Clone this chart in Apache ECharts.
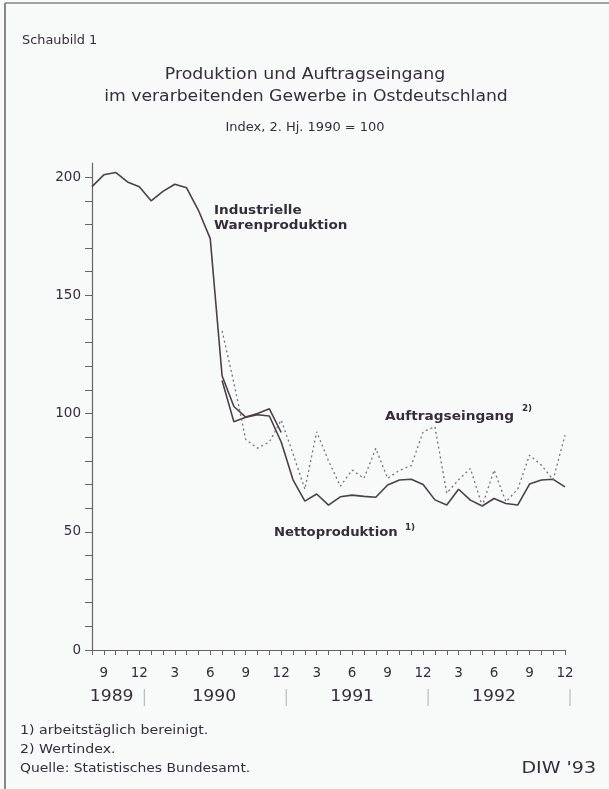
<!DOCTYPE html>
<html><head><meta charset="utf-8">
<script src="https://cdn.jsdelivr.net/npm/echarts@6/dist/echarts.min.js"></script>
<style>html,body{margin:0;padding:0;background:#f8fafa;}#c{width:609px;height:789px;}</style>
</head><body><div id="c"></div>
<script>
// ---- data ----
const months = ['8/89','9/89','10/89','11/89','12/89',
  '1/90','2/90','3/90','4/90','5/90','6/90','7/90','8/90','9/90','10/90','11/90','12/90',
  '1/91','2/91','3/91','4/91','5/91','6/91','7/91','8/91','9/91','10/91','11/91','12/91',
  '1/92','2/92','3/92','4/92','5/92','6/92','7/92','8/92','9/92','10/92','11/92','12/92'];
const monthLabelsShown = ['3','6','9','12'];
const years = ['1989','1990','1991','1992'];
const yearEnds = ['12/89','12/90','12/91','12/92'];

const industrieStart = '8/89';
const industrie = [196,201,202,198,196,190,194,197,195.5,186,174,116,103,98.5,100,102,92];
const nettoStart = '7/90';
const netto = [114,96.5,98.5,99.5,99,88,
  72,63,66,61.3,64.8,65.5,65,64.6,69.8,71.9,72.2,70,
  63.5,61.3,68,63.4,60.9,64.1,62,61.3,70.2,71.9,72.2,69];
const auftragStart = '7/90';
const auftrag = [135,113,89,85.4,88,97.3,
  83,68,92.3,80,69.3,76.1,72.6,85.3,72.6,76,78,92.3,
  94.4,66.3,72,76.8,60.9,76.1,62.7,68,82.4,78.2,72,90.9];
const yLabelValues = [0,50,100,150,200];
const yTickValues = [0,10,20,30,40,50,60,70,80,90,100,110,120,130,140,150,160,170,180,190,200];

// ---- build ----
function pairs(start, vals){
  const s = months.indexOf(start);
  return vals.map((v,i)=>[months[s+i], v]);
}
const INK = '#4a4048';
const TXT = '#352d38';
const FONT = 'DejaVu Sans';
const chart = echarts.init(document.getElementById('c'), null, {renderer:'canvas'});
const option = {
  backgroundColor:'#f8fafa',
  animation:false,
  textStyle:{fontFamily:FONT},
  grid:{left:92, right:44, top:163, bottom:139},
  xAxis:{type:'category', data:months, boundaryGap:false,
    axisLine:{lineStyle:{color:'#6a6068', width:1.2}},
    axisTick:{show:true, interval:0, length:5, lineStyle:{color:'#6a6068'}},
    axisLabel:{interval:0, margin:16, color:TXT, fontSize:13.5, fontFamily:FONT,
      formatter:v=>{const m=v.split('/')[0]; return monthLabelsShown.includes(m)?m:'';}},
    splitLine:{show:false}},
  yAxis:{type:'value', min:0, max:206,
    axisLine:{show:true, lineStyle:{color:'#6a6068', width:1.2}},
    axisTick:{show:true, length:7, customValues:yTickValues, lineStyle:{color:'#6a6068'}},
    axisLabel:{customValues:yLabelValues, margin:11, color:TXT, fontSize:13.5, fontFamily:FONT},
    splitLine:{show:false}},
  series:[
    {name:'Industrielle Warenproduktion', type:'line', data:pairs(industrieStart, industrie), symbol:'none',
     lineStyle:{color:INK, width:1.6}},
    {name:'Nettoproduktion', type:'line', data:pairs(nettoStart, netto), symbol:'none',
     lineStyle:{color:INK, width:1.6}},
    {name:'Auftragseingang', type:'line', data:pairs(auftragStart, auftrag), symbol:'none',
     lineStyle:{color:'#7a7078', width:1.3, type:[2,3]}}
  ]
};
chart.setOption(option);

function txt(t,x,y,font,sx,opts){
  return {type:'text', x:x, y:y, scaleX:sx||1,
    style:Object.assign({text:t, fill:TXT, font:font+' "'+FONT+'"', align:'left', verticalAlign:'middle'}, opts||{})};
}
// year labels and separators placed through the axis scale
const g = [];
const yAxisY = chart.convertToPixel({gridIndex:0}, [months[0], 0])[1];
const yearLabelShift = [-4, 4, 0, 0];
let prevX = chart.convertToPixel({xAxisIndex:0}, months[0]);
years.forEach((yr,i)=>{
  const x = chart.convertToPixel({xAxisIndex:0}, yearEnds[i]);
  g.push(txt(yr, (prevX+x)/2 + yearLabelShift[i], yAxisY+47, '15px', 1.15, {align:'center'}));
  g.push({type:'line', shape:{x1:x+5, y1:yAxisY+39, x2:x+5, y2:yAxisY+56}, style:{stroke:'#b0acb0', lineWidth:1}});
  prevX = x;
});
g.push(
  txt('Schaubild 1', 22, 41, '11.5px', 1.12),
  txt('Produktion und Auftragseingang', 305, 75, '15.5px', 1.12, {align:'center'}),
  txt('im verarbeitenden Gewerbe in Ostdeutschland', 306, 97, '15.5px', 1.11, {align:'center'}),
  txt('Index, 2. Hj. 1990 = 100', 305, 128, '11.5px', 1.13, {align:'center'}),
  txt('Industrielle', 214, 211, 'bold 12px', 1.13),
  txt('Warenproduktion', 214, 226, 'bold 12px', 1.13),
  txt('Auftragseingang', 385, 417, 'bold 12px', 1.14),
  txt('2)', 522, 409, 'bold 8px', 1.1),
  txt('Nettoproduktion', 274, 533, 'bold 12px', 1.1),
  txt('1)', 405, 528, 'bold 8px', 1.1),
  txt('1) arbeitstäglich bereinigt.', 20, 731, '12px', 1.18),
  txt('2) Wertindex.', 20, 750, '12px', 1.18),
  txt('Quelle: Statistisches Bundesamt.', 20, 769, '12px', 1.16),
  txt("DIW '93", 596, 769, '16px', 1.19, {align:'right'}),
  {type:'line', shape:{x1:5, y1:3, x2:609, y2:3}, style:{stroke:'#8a8488', lineWidth:1.5}},
  {type:'line', shape:{x1:5, y1:3, x2:5, y2:789}, style:{stroke:'#6a6068', lineWidth:1.5}}
);
chart.setOption({graphic:g});
</script></body></html>
